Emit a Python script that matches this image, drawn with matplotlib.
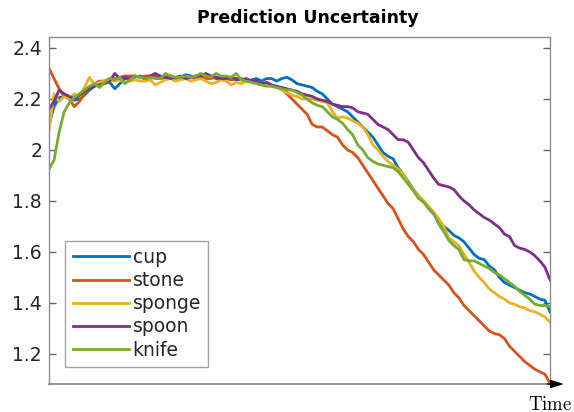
import matplotlib
matplotlib.use("Agg")
import matplotlib.pyplot as plt
import numpy as np

series_names = ["cup", "stone", "sponge", "spoon", "knife"]
colors = ["#0072BD", "#D95319", "#EDB120", "#7E2F8E", "#77AC30"]

cup = [2.10, 2.17, 2.205, 2.21, 2.205, 2.195, 2.20, 2.215, 2.235, 2.25,
       2.265, 2.27, 2.265, 2.24, 2.26, 2.28, 2.28, 2.285, 2.29, 2.28,
       2.285, 2.29, 2.28, 2.285, 2.29, 2.28, 2.285, 2.295, 2.29, 2.285,
       2.28, 2.285, 2.29, 2.28, 2.275, 2.28, 2.28, 2.275, 2.28, 2.27,
       2.275, 2.28, 2.27, 2.28, 2.28, 2.27, 2.28, 2.285, 2.275, 2.26,
       2.255, 2.25, 2.245, 2.23, 2.22, 2.20, 2.18, 2.17, 2.16, 2.15,
       2.13, 2.11, 2.09, 2.07, 2.05, 2.02, 1.99, 1.975, 1.965, 1.93,
       1.905, 1.875, 1.845, 1.82, 1.80, 1.77, 1.75, 1.725, 1.70, 1.685,
       1.665, 1.655, 1.64, 1.615, 1.59, 1.575, 1.57, 1.545, 1.53, 1.50,
       1.48, 1.47, 1.46, 1.45, 1.44, 1.435, 1.425, 1.415, 1.41, 1.365]

stone = [2.32, 2.28, 2.24, 2.21, 2.20, 2.17, 2.19, 2.22, 2.24, 2.26,
         2.27, 2.27, 2.28, 2.28, 2.285, 2.29, 2.29, 2.29, 2.285, 2.29,
         2.29, 2.285, 2.28, 2.285, 2.29, 2.28, 2.285, 2.29, 2.285, 2.28,
         2.285, 2.28, 2.28, 2.285, 2.28, 2.28, 2.275, 2.28, 2.275, 2.27,
         2.27, 2.265, 2.255, 2.26, 2.25, 2.245, 2.24, 2.22, 2.20, 2.18,
         2.16, 2.14, 2.10, 2.09, 2.09, 2.075, 2.06, 2.05, 2.02, 2.00,
         1.99, 1.97, 1.94, 1.91, 1.88, 1.85, 1.82, 1.79, 1.77, 1.73,
         1.69, 1.66, 1.64, 1.61, 1.59, 1.56, 1.53, 1.51, 1.49, 1.47,
         1.44, 1.42, 1.39, 1.37, 1.35, 1.33, 1.31, 1.29, 1.28, 1.275,
         1.26, 1.23, 1.21, 1.19, 1.17, 1.155, 1.14, 1.13, 1.12, 1.085]

sponge = [2.08, 2.22, 2.19, 2.21, 2.20, 2.22, 2.21, 2.245, 2.285, 2.255,
          2.265, 2.27, 2.275, 2.27, 2.275, 2.265, 2.27, 2.275, 2.27, 2.27,
          2.275, 2.255, 2.265, 2.275, 2.28, 2.27, 2.275, 2.28, 2.27, 2.275,
          2.28, 2.27, 2.26, 2.265, 2.275, 2.27, 2.255, 2.265, 2.26, 2.27,
          2.27, 2.265, 2.26, 2.255, 2.255, 2.245, 2.235, 2.225, 2.215, 2.21,
          2.20, 2.20, 2.20, 2.195, 2.19, 2.185, 2.15, 2.125, 2.13, 2.125,
          2.115, 2.105, 2.09, 2.06, 2.02, 2.00, 1.975, 1.955, 1.94, 1.925,
          1.905, 1.87, 1.845, 1.82, 1.80, 1.78, 1.755, 1.73, 1.70, 1.655,
          1.64, 1.625, 1.59, 1.56, 1.525, 1.50, 1.48, 1.455, 1.44, 1.425,
          1.415, 1.40, 1.395, 1.385, 1.38, 1.37, 1.365, 1.355, 1.345, 1.325]

spoon = [2.16, 2.19, 2.235, 2.22, 2.21, 2.20, 2.215, 2.23, 2.24, 2.25,
         2.255, 2.26, 2.27, 2.30, 2.28, 2.285, 2.28, 2.29, 2.285, 2.28,
         2.29, 2.30, 2.29, 2.285, 2.28, 2.285, 2.29, 2.28, 2.285, 2.29,
         2.29, 2.30, 2.29, 2.285, 2.28, 2.28, 2.285, 2.28, 2.275, 2.28,
         2.27, 2.27, 2.26, 2.265, 2.255, 2.25, 2.245, 2.24, 2.235, 2.23,
         2.22, 2.215, 2.21, 2.20, 2.195, 2.19, 2.18, 2.175, 2.17, 2.17,
         2.165, 2.15, 2.145, 2.14, 2.12, 2.10, 2.09, 2.08, 2.06, 2.04,
         2.04, 2.03, 2.00, 1.97, 1.95, 1.92, 1.89, 1.865, 1.86, 1.855,
         1.845, 1.82, 1.80, 1.785, 1.765, 1.75, 1.735, 1.725, 1.71, 1.695,
         1.67, 1.66, 1.625, 1.615, 1.61, 1.60, 1.585, 1.565, 1.54, 1.49]

knife = [1.925, 1.96, 2.07, 2.15, 2.185, 2.205, 2.22, 2.235, 2.25, 2.26,
         2.245, 2.265, 2.28, 2.275, 2.285, 2.26, 2.275, 2.29, 2.285, 2.28,
         2.285, 2.28, 2.28, 2.30, 2.29, 2.285, 2.285, 2.29, 2.285, 2.29,
         2.30, 2.29, 2.285, 2.30, 2.29, 2.29, 2.285, 2.30, 2.275, 2.27,
         2.265, 2.26, 2.255, 2.25, 2.25, 2.245, 2.24, 2.235, 2.235, 2.225,
         2.215, 2.20, 2.185, 2.175, 2.17, 2.15, 2.13, 2.12, 2.105, 2.08,
         2.06, 2.02, 2.00, 1.97, 1.955, 1.945, 1.94, 1.935, 1.93, 1.915,
         1.89, 1.865, 1.84, 1.81, 1.795, 1.77, 1.75, 1.71, 1.68, 1.645,
         1.625, 1.61, 1.57, 1.565, 1.565, 1.555, 1.545, 1.535, 1.52, 1.51,
         1.495, 1.48, 1.465, 1.445, 1.43, 1.415, 1.395, 1.39, 1.39, 1.385]

yticks = [1.2, 1.4, 1.6, 1.8, 2.0, 2.2, 2.4]
ytick_labels = ["1.2", "1.4", "1.6", "1.8", "2", "2.2", "2.4"]

data = [cup, stone, sponge, spoon, knife]

plt.rcParams["mathtext.fontset"] = "cm"

fig = plt.figure(figsize=(5.74, 4.12), dpi=100)
ax = fig.add_axes([49/574, 28/412, 501/574, 347/412])

for name, vals, c in zip(series_names, data, colors):
    ax.plot(np.arange(len(vals)), vals, color=c, lw=2.0, label=name)

ax.set_xlim(0, len(cup) - 1)
ax.set_ylim(1.082, 2.443)
ax.set_yticks(yticks)
ax.set_yticklabels(ytick_labels)
ax.set_xticks([])

spine_gray = "#8c8c8c"
for s in ["left", "right", "top"]:
    ax.spines[s].set_color(spine_gray)
    ax.spines[s].set_linewidth(1.0)
ax.spines["bottom"].set_color("#808080")
ax.spines["bottom"].set_linewidth(1.2)

ax.tick_params(axis="y", direction="in", length=5, width=1.0, color="#666666",
               labelsize=13.5, labelcolor="#262626", right=True, left=True, pad=5)

# arrow at the right end of the time axis
ax.annotate("", xy=(1.028, 0), xytext=(0.995, 0), xycoords="axes fraction",
            textcoords="axes fraction",
            arrowprops=dict(arrowstyle="-|>,head_length=0.8,head_width=0.25",
                            color="black", lw=1.0, shrinkA=0, shrinkB=0),
            annotation_clip=False)

fig.text(550/574, 1 - 404/412, r"$\mathrm{Time}$", fontsize=13.5,
         ha="center", va="center", color="black")

fig.text(308/574, 1 - 18/412, "Prediction Uncertainty", fontsize=12.5,
         fontweight="bold", ha="center", va="center", color="black")

leg = ax.legend(loc="lower left", bbox_to_anchor=(16/501, 17/347), fontsize=13.5,
                frameon=True, fancybox=False, handlelength=3.0,
                handletextpad=0.2, labelspacing=0.22, borderpad=0.4,
                borderaxespad=0)
leg.get_frame().set_edgecolor("#8c8c8c")
leg.get_frame().set_linewidth(1.0)
for t in leg.get_texts():
    t.set_color("#262626")

fig.savefig("out.png", dpi=100)
